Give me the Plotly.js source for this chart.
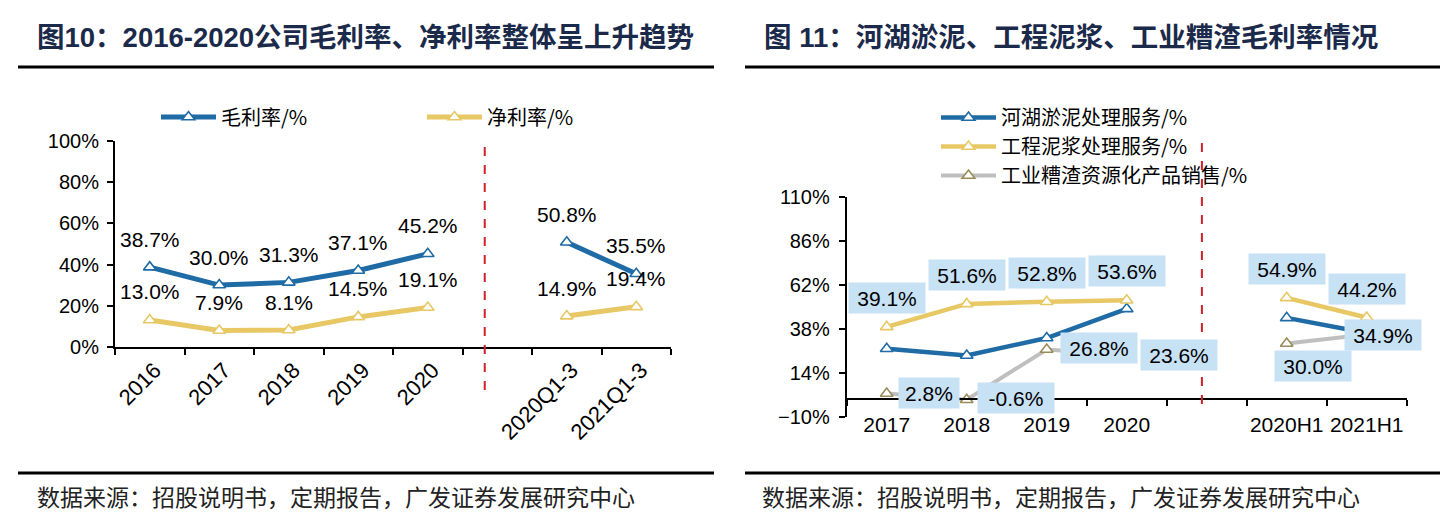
<!DOCTYPE html>
<html>
<head>
<meta charset="utf-8">
<script src="https://cdn.plot.ly/plotly-3.0.1.min.js"></script>
<style>html,body{margin:0;padding:0;background:#fff;}#chart{width:1452px;height:524px;}</style>
</head>
<body>
<div id="chart"></div>
<script>
// ---------- data ----------
const leftCategories = ['2016','2017','2018','2019','2020',' ','2020Q1-3','2021Q1-3'];
const grossMargin = [38.7, 30.0, 31.3, 37.1, 45.2, null, 50.8, 35.5];
const netMargin   = [13.0, 7.9, 8.1, 14.5, 19.1, null, 14.9, 19.4];

const rightCategories = ['2017','2018','2019','2020',' ','2020H1','2021H1'];
const dredgingMargin = [27.2, 23.5, 33.0, 48.9, null, 44.0, 35.8];
const slurryMargin   = [39.1, 51.6, 52.8, 53.6, null, 54.9, 44.2];
const residueMargin  = [2.8, -0.6, 26.8, 23.6, null, 30.0, 34.9];

const leftSeriesNames = ['毛利率/%', '净利率/%'];
const rightSeriesNames = ['河湖淤泥处理服务/%', '工程泥浆处理服务/%', '工业糟渣资源化产品销售/%'];
const leftTitle = '图10：2016-2020公司毛利率、净利率整体呈上升趋势';
const rightTitle = '图 11：河湖淤泥、工程泥浆、工业糟渣毛利率情况';
const sourceText = '数据来源：招股说明书，定期报告，广发证券发展研究中心';

// ---------- style ----------
const W = 1452, H = 524;
const px = v => v / W;
const py = v => 1 - v / H;
const BLUE = '#1F6BA5', YELLOW = '#E8C865', GRAY = '#BFBFBF', OLIVE = '#9A8C5A';
const BOX = '#C7E1F5';
const NUM_FONT = 'Liberation Sans, Arial, sans-serif';
const CJK_FONT = 'Noto Sans CJK SC, sans-serif';

const leftX = [px(115), px(671)], leftY = [py(346.7), py(141.2)];
const rightX = [px(846.7), px(1406.7)], rightY = [py(417), py(196.7)];
const rightRange = [-10, 110];
const zeroPos = rightY[0] + (0 - rightRange[0]) / (rightRange[1] - rightRange[0]) * (rightY[1] - rightY[0]);

function series(x, y, name, color, mcolor, xa, ya, legend, lw) {
  return {
    type: 'scatter', mode: 'lines+markers', x: x, y: y, name: name,
    xaxis: xa, yaxis: ya, legend: legend,
    line: {color: color, width: lw},
    marker: {symbol: 'triangle-up', size: 11, color: '#FFFFFF', line: {color: mcolor, width: 1.6}},
    hoverinfo: 'skip'
  };
}

const traces = [
  series(leftCategories, grossMargin, leftSeriesNames[0], BLUE, BLUE, 'x', 'y', 'legend', 5),
  series(leftCategories, netMargin, leftSeriesNames[1], YELLOW, YELLOW, 'x', 'y', 'legend', 5),
  series(rightCategories, dredgingMargin, rightSeriesNames[0], BLUE, BLUE, 'x2', 'y2', 'legend2', 4.5),
  series(rightCategories, slurryMargin, rightSeriesNames[1], YELLOW, YELLOW, 'x2', 'y2', 'legend2', 4.5),
  series(rightCategories, residueMargin, rightSeriesNames[2], GRAY, OLIVE, 'x2', 'y2', 'legend2', 4)
];

const annotations = [];
const fmt = v => v.toFixed(1) + '%';
// left chart labels (above points); x given as category index
[grossMargin, netMargin].forEach(arr => {
  arr.forEach((v, i) => {
    if (v === null) return;
    annotations.push({xref: 'x', yref: 'y', x: i, y: v, text: fmt(v),
      showarrow: false, yshift: 28, font: {family: NUM_FONT, size: 21, color: '#000'}});
  });
});
// right chart labels (boxed)
const residueOffsets = [[42, 1], [49, 2], [52, 1], [52, 0], null, [26, -22], [16, 0]];
function boxLabel(i, v, dx, dy) {
  const t = fmt(v);
  annotations.push({xref: 'x2', yref: 'y2', x: i, y: v, text: t,
    showarrow: false, xshift: dx, yshift: dy, bgcolor: BOX, borderpad: 4,
    width: 16 * t.length - 12, height: 22,
    font: {family: NUM_FONT, size: 21, color: '#000'}});
}
slurryMargin.forEach((v, i) => { if (v !== null) boxLabel(i, v, 0, 29); });
residueMargin.forEach((v, i) => { if (v !== null) boxLabel(i, v, residueOffsets[i][0], residueOffsets[i][1]); });

// titles & sources
[[leftTitle, 35], [rightTitle, 762]].forEach(([t, x]) => {
  annotations.push({xref: 'paper', yref: 'paper', x: px(x), y: py(38), xanchor: 'left', yanchor: 'middle',
    text: t, showarrow: false, font: {family: 'Liberation Sans, Noto Sans CJK SC, sans-serif', size: 27.5, weight: 700, color: '#1B2A4A'}});
});
[35, 760].forEach(x => {
  annotations.push({xref: 'paper', yref: 'paper', x: px(x), y: py(496), xanchor: 'left', yanchor: 'middle',
    text: sourceText, showarrow: false, font: {family: CJK_FONT, size: 23, color: '#222'}});
});

const shapes = [];
[[18, 714], [745, 1440]].forEach(([a, b]) => {
  [67, 473].forEach(y => shapes.push({type: 'line', xref: 'paper', yref: 'paper', x0: px(a), x1: px(b), y0: py(y), y1: py(y),
    line: {color: '#000', width: 3}}));
});
shapes.push({type: 'line', xref: 'x', yref: 'paper', x0: 4.82, x1: 4.82, y0: py(390), y1: py(146),
  line: {color: '#D0202A', width: 2, dash: 'dash'}});
shapes.push({type: 'line', xref: 'x2', yref: 'paper', x0: 3.94, x1: 3.94, y0: py(404), y1: py(143),
  line: {color: '#D0202A', width: 2, dash: 'dash'}});

const axisCommon = {showgrid: false, zeroline: false, showline: true, linecolor: '#000', linewidth: 2,
  ticks: 'outside', ticklen: 6, tickwidth: 2, tickcolor: '#000', tickfont: {family: NUM_FONT, size: 20, color: '#000'}};

const layout = {
  width: W, height: H, margin: {l: 0, r: 0, t: 0, b: 0},
  paper_bgcolor: '#fff', plot_bgcolor: 'rgba(0,0,0,0)',
  showlegend: true,
  xaxis: Object.assign({}, axisCommon, {type: 'category', categoryorder: 'array', categoryarray: leftCategories,
    domain: leftX, anchor: 'y', range: [-0.5, 7.5], tickson: 'boundaries', tickangle: -45,
    tickfont: {family: NUM_FONT, size: 22, color: '#000'}, ticklabelshift: 5}),
  yaxis: Object.assign({}, axisCommon, {domain: leftY, anchor: 'x', range: [0, 100], dtick: 20, ticksuffix: '%',
    ticklabelstandoff: 4}),
  xaxis2: Object.assign({}, axisCommon, {type: 'category', categoryorder: 'array', categoryarray: rightCategories,
    domain: rightX, anchor: 'free', position: zeroPos, range: [-0.5, 6.5], tickson: 'boundaries', tickangle: 0,
    ticklabelstandoff: 7, tickfont: {family: NUM_FONT, size: 21, color: '#000'}}),
  yaxis2: Object.assign({}, axisCommon, {domain: rightY, anchor: 'x2', range: rightRange, tick0: -10, dtick: 24, ticksuffix: '%',
    ticklabelstandoff: 5}),
  legend: {orientation: 'h', x: px(156), y: py(117), xanchor: 'left', yanchor: 'middle',
    font: {family: CJK_FONT, size: 20, color: '#000'}, itemwidth: 55, entrywidth: 196, entrywidthmode: 'pixels',
    bgcolor: 'rgba(0,0,0,0)'},
  legend2: {orientation: 'v', x: px(936), y: py(98), xanchor: 'left', yanchor: 'top',
    font: {family: CJK_FONT, size: 20, color: '#000'}, itemwidth: 55, bgcolor: 'rgba(0,0,0,0)'},
  annotations: annotations,
  shapes: shapes
};

Plotly.newPlot('chart', traces, layout, {staticPlot: true, displayModeBar: false});
</script>
</body>
</html>
